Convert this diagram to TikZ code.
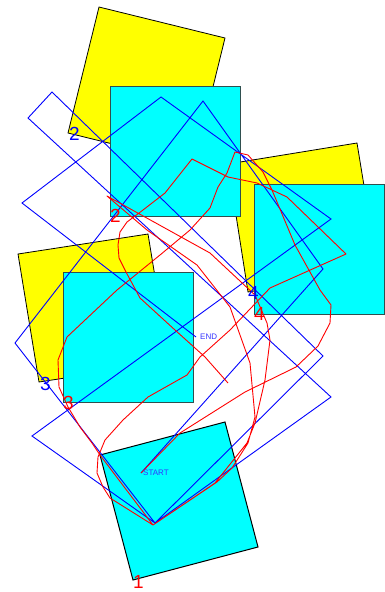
\documentclass[tikz,border=0pt]{standalone}
\usepackage{fontspec}
\setmainfont{Liberation Sans}
\usepackage{tikz}
\usetikzlibrary{calc}

\definecolor{slateedge}{RGB}{47,79,79}
\definecolor{sqcyan}{RGB}{0,255,255}
\definecolor{sqyellow}{RGB}{255,255,0}
\definecolor{traceblue}{RGB}{0,0,255}
\definecolor{tracered}{RGB}{255,0,0}

\begin{document}
\begin{tikzpicture}[x=1pt, y=-1pt,
    yellowsq/.style={fill=sqyellow, draw=black, line width=0.8pt},
    cyansq/.style={fill=sqcyan, draw=slateedge, line width=1pt},
    bluepath/.style={draw=traceblue, line width=0.9pt},
    redpath/.style={draw=tracered, line width=0.9pt, line join=round},
    numlabel/.style={anchor=west, inner sep=1pt, font=\fontsize{19}{19}\selectfont},
    tracelabel/.style={anchor=west, inner sep=2pt, font=\fontsize{8}{8}\selectfont, traceblue!80!white}]
  \useasboundingbox (0,0) rectangle (385,592);

  % Yellow squares
  \draw[yellowsq] (99,7) -- (225,38) -- (194,164) -- (68,133) -- cycle;
  \draw[yellowsq] (18,254) -- (148,234) -- (169,362) -- (39,382) -- cycle;
  \draw[yellowsq] (228,164) -- (357,143) -- (378,271) -- (248,292) -- cycle;

  % Cyan squares
  \draw[cyansq, draw=black] (100,455) -- (225,422) -- (258,547) -- (133,580) -- cycle;
  \draw[cyansq] (110,86) rectangle (240,216);
  \draw[cyansq] (63,272) rectangle (193,402);
  \draw[cyansq] (254,184) rectangle (384,314);

  % Path ends
  \coordinate (start) at (141,473);
  \coordinate (finish) at (196,337);

  % Straight trace
  \draw[bluepath] (start) -- (323,269) -- (203,101) -- (15,343)
    -- (155,523) -- (331,397) -- (28,118) -- (52,92) -- (323,356)
    -- (155,523) -- (32,436) -- (331,219) -- (161,97) -- (22,203)
    -- (finish);

  % Curved trace
  \draw[redpath] (start) -- (180,433) -- (245,392) -- (296,367)
    -- (318,346) -- (330,323) -- (331,305) -- (320,290) -- (295,245)
    -- (272,190) -- (263,172) -- (248,155) -- (235,152) -- (227,173)
    -- (218,187) -- (210,208) -- (190,230) -- (160,255) -- (117,290)
    -- (67,337) -- (58,360) -- (59,387) -- (68,407) -- (80,427)
    -- (92,443) -- (100,455) -- (153,525) -- (217,482) -- (232,468)
    -- (248,443) -- (255,417) -- (250,363) -- (230,307) -- (197,265)
    -- (147,230) -- (107,196) -- (210,253) -- (255,295) -- (267,323)
    -- (270,340) -- (265,380) -- (255,423) -- (247,443) -- (215,483)
    -- (153,525) -- (110,498) -- (103,487) -- (97,473) -- (98,457)
    -- (105,440) -- (123,420) -- (148,397) -- (187,375) -- (200,357)
    -- (230,330) -- (270,288) -- (346,254) -- (287,197) -- (257,183)
    -- (228,177) -- (192,159) -- (165,193) -- (143,210) -- (127,222)
    -- (120,232) -- (118,245) -- (119,258) -- (126,272) -- (140,298)
    -- (175,330) -- (205,357) -- (228,383);

  % Labels
  \node[numlabel, traceblue] (ylab2) at (68,134) {2};
  \node[numlabel, traceblue] (ylab3) at (39,384) {3};
  \node[numlabel, traceblue] (ylab4) at (247,293) {4};
  \node[numlabel, tracered] (clab1) at (132,582) {1};
  \node[numlabel, tracered] (clab2) at (109,216) {2};
  \node[numlabel, tracered] (clab3) at (62,403) {3};
  \node[numlabel, tracered] (clab4) at (253,314) {4};
  \node[tracelabel] (startlab) at (start) {START};
  \node[tracelabel, xshift=2pt] (endlab) at (finish) {END};

\end{tikzpicture}
\end{document}
